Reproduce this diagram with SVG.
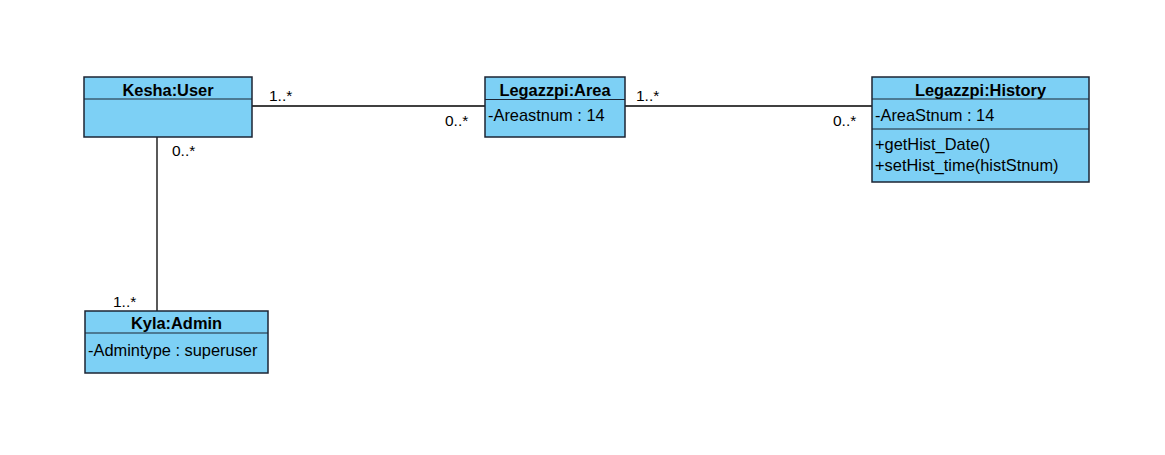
<svg xmlns="http://www.w3.org/2000/svg" width="1165" height="455" viewBox="0 0 1165 455">
<style>
.box{fill:#7dd0f5;stroke:#1c2433;stroke-width:1.5}
.div{stroke:#1c2433;stroke-width:1.2}
.title{font-family:"Liberation Sans",Arial,sans-serif;font-size:16.4px;font-weight:bold;fill:#000;text-anchor:middle}
.attr{font-family:"Liberation Sans",Arial,sans-serif;font-size:16.4px;fill:#000}
.conn{stroke:#000;stroke-width:1.3;fill:none}
.mult{font-family:"Liberation Sans",Arial,sans-serif;font-size:15.5px;fill:#000}
</style>
<rect width="1165" height="455" fill="#fff"/>
<g id="connectors">
<line class="conn" x1="252" y1="106" x2="485" y2="106"/>
<line class="conn" x1="625" y1="106" x2="872" y2="106"/>
<line class="conn" x1="157" y1="137" x2="157" y2="311"/>
<text class="mult" x="269" y="101">1..*</text>
<text class="mult" x="445" y="126">0..*</text>
<text class="mult" x="636" y="101">1..*</text>
<text class="mult" x="833" y="126">0..*</text>
<text class="mult" x="172" y="156">0..*</text>
<text class="mult" x="113" y="307">1..*</text>
</g>
<g id="user">
<rect class="box" x="84" y="77" width="168" height="60"/>
<line class="div" x1="84" y1="99" x2="252" y2="99"/>
<text class="title" x="168" y="95.5">Kesha:User</text>
</g>
<g id="area">
<rect class="box" x="485" y="77" width="140" height="60"/>
<line class="div" x1="485" y1="99.5" x2="625" y2="99.5"/>
<text class="title" x="555" y="95.5">Legazzpi:Area</text>
<text class="attr" x="488" y="121">-Areastnum : 14</text>
</g>
<g id="history">
<rect class="box" x="872" y="77" width="217" height="105"/>
<line class="div" x1="872" y1="99" x2="1089" y2="99"/>
<line class="div" x1="872" y1="129" x2="1089" y2="129"/>
<text class="title" x="980.5" y="95.5">Legazzpi:History</text>
<text class="attr" x="875" y="120.5">-AreaStnum : 14</text>
<text class="attr" x="875" y="149.5">+getHist_Date()</text>
<text class="attr" x="875" y="170.5">+setHist_time(histStnum)</text>
</g>
<g id="admin">
<rect class="box" x="85" y="311" width="183" height="62"/>
<line class="div" x1="85" y1="333" x2="268" y2="333"/>
<text class="title" x="176.5" y="328.5">Kyla:Admin</text>
<text class="attr" x="88" y="355.5">-Admintype : superuser</text>
</g>
</svg>
